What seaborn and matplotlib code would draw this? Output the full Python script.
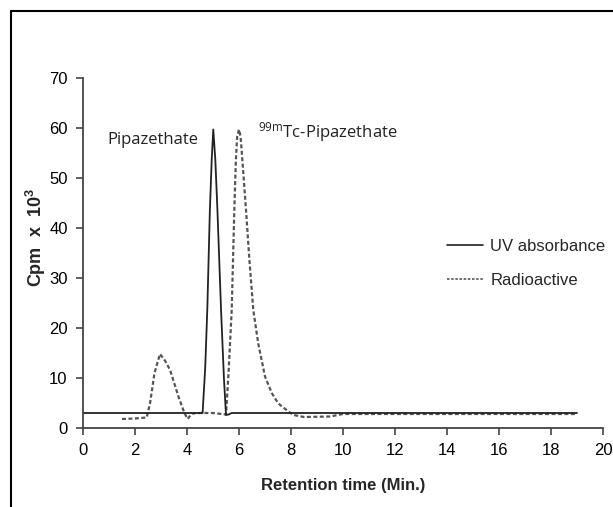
import matplotlib
matplotlib.use("Agg")
import matplotlib.pyplot as plt
import matplotlib.lines as mlines
import seaborn as sns
import pandas as pd

# UV absorbance (solid)
uv_time = [0.0, 4.0, 4.6, 4.7, 4.78, 4.88, 4.95, 5.01, 5.09, 5.17, 5.31, 5.42, 5.5, 5.6,
           5.72, 10.0, 19.0]
uv_cpm = [3.0, 3.0, 3.0, 12.0, 23.6, 43.6, 53.6, 59.7, 53.6, 43.6, 23.6, 10.0, 2.6, 2.7,
          3.0, 3.0, 3.0]

# Radioactive (dashed)
rad_time = [1.5, 2.0, 2.45, 2.58, 2.75, 2.96, 3.15, 3.35, 3.67, 3.9, 4.03, 4.18, 4.5, 5.0,
            5.5, 5.55, 5.59, 5.72, 5.82, 5.88, 5.93, 6.0, 6.06, 6.13, 6.27, 6.4, 6.55,
            6.74, 7.0, 7.26, 7.51, 7.9, 8.1, 8.5, 9.5, 10.0, 19.0]
rad_cpm = [1.8, 1.9, 2.1, 5.0, 11.0, 14.8, 13.5, 11.6, 6.3, 3.0, 1.8, 2.9, 3.0, 3.0,
           2.7, 7.0, 10.3, 23.6, 43.6, 53.6, 58.3, 59.7, 58.3, 53.6, 43.6, 33.6, 23.6,
           16.9, 10.3, 7.0, 4.9, 3.3, 2.6, 2.2, 2.3, 2.8, 2.8]

x_ticks = list(range(0, 21, 2))
y_ticks = list(range(0, 71, 10))

sns.set_theme(style="white")
plt.rcParams['font.family'] = ['Liberation Sans', 'DejaVu Sans']
plt.rcParams['mathtext.fontset'] = 'custom'
plt.rcParams['mathtext.rm'] = 'Liberation Sans'
plt.rcParams['mathtext.bf'] = 'Liberation Sans:bold'
plt.rcParams['mathtext.default'] = 'regular'

fig = plt.figure(figsize=(6.13, 5.07), dpi=100)
ax = fig.add_axes([83/613, 1-428/507, 520/613, 350/507])

uv_df = pd.DataFrame({"t": uv_time, "c": uv_cpm})
rad_df = pd.DataFrame({"t": rad_time, "c": rad_cpm})

sns.lineplot(data=rad_df, x="t", y="c", ax=ax, color="#555555", lw=1.6,
             linestyle=(0, (1.8, 1.1)), label="Radioactive")
sns.lineplot(data=uv_df, x="t", y="c", ax=ax, color="#222222", lw=1.3,
             label="UV absorbance")

ax.set_xlim(0, 20)
ax.set_ylim(0, 70)
ax.set_xticks(x_ticks)
ax.set_yticks(y_ticks)
ax.tick_params(axis="both", direction="out", length=5, width=1.2, color="#444444",
               labelsize=12, labelcolor="black", bottom=True, left=True)
ax.tick_params(axis="x", pad=6)
ax.tick_params(axis="y", pad=6)
for s in ["top", "right"]:
    ax.spines[s].set_visible(False)
for s in ["left", "bottom"]:
    ax.spines[s].set_color("#444444")
    ax.spines[s].set_linewidth(1.3)

ax.set_xlabel("Retention time (Min.)", fontsize=12, fontweight="bold", labelpad=14)
ax.set_ylabel(r"Cpm  x  $\mathbf{10^3}$", fontsize=13, fontweight="bold")
ax.yaxis.set_label_coords(-0.068, 0.545)

ax.text(2.7, 57.6, "Pipazethate", fontsize=12, family=["Open Sans", "DejaVu Sans"],
        ha="center", va="center", color="#222222")
ax.text(6.73, 59.2, "$^{99m}$Tc-Pipazethate", fontsize=12,
        family=["Open Sans", "DejaVu Sans"], ha="left", va="center", color="#222222")

h_uv = mlines.Line2D([], [], color="#222222", lw=1.2)
h_rad = mlines.Line2D([], [], color="#555555", lw=1.2, linestyle=(0, (1.5, 1.0)))
leg = ax.legend([h_uv, h_rad], ["UV absorbance", "Radioactive"], loc="upper left",
                bbox_to_anchor=(0.70, 0.54), frameon=False, fontsize=12,
                handlelength=2.15, handletextpad=0.45, labelspacing=1.15,
                borderaxespad=0.0, borderpad=0.0)

# figure border (left and top)
fig.add_artist(mlines.Line2D([11/613, 11/613], [0, 1-11/507], color="black", lw=1.5,
                             transform=fig.transFigure))
fig.add_artist(mlines.Line2D([11/613, 1], [1-11/507, 1-11/507], color="black", lw=1.5,
                             transform=fig.transFigure))

fig.savefig("out.png", dpi=100, facecolor="white")
